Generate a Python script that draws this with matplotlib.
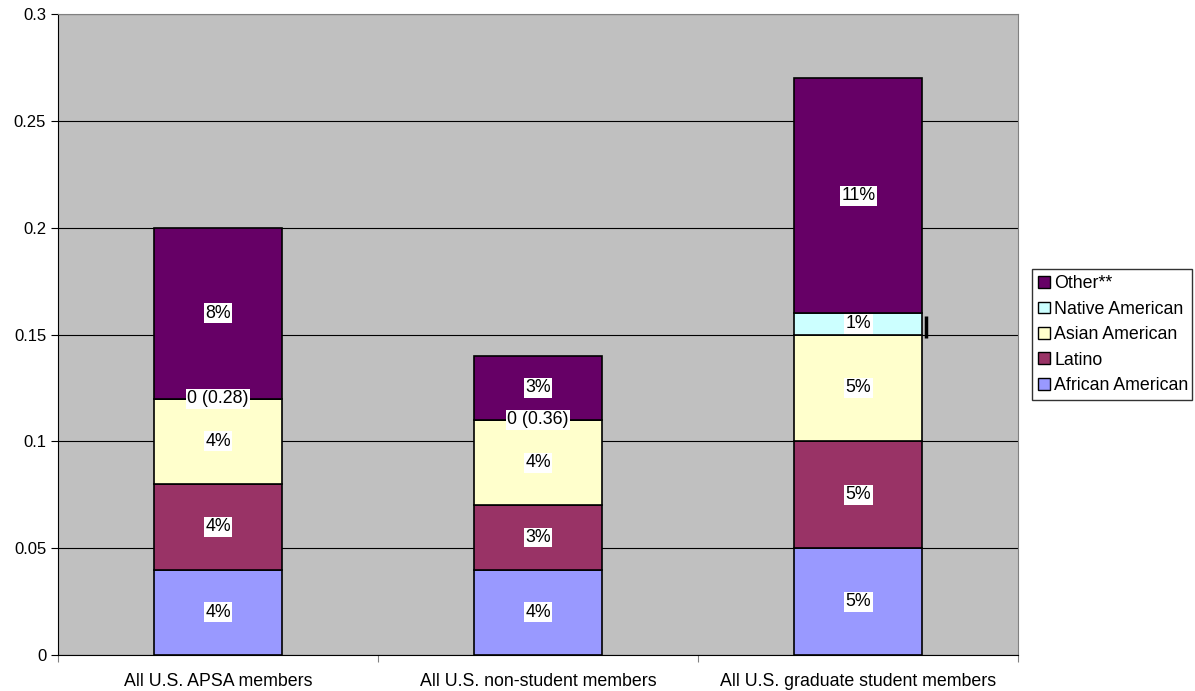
import numpy as np
import matplotlib.pyplot as plt
from matplotlib.patches import Patch

plt.rcParams['font.family'] = ['Liberation Sans', 'DejaVu Sans']

categories = ['All U.S. APSA members', 'All U.S. non-student members',
              'All U.S. graduate student members']
series = ['African American', 'Latino', 'Asian American', 'Native American', 'Other**']
african = [0.04, 0.04, 0.05]
latino = [0.04, 0.03, 0.05]
asian = [0.04, 0.04, 0.05]
native = [0.0, 0.0, 0.01]
other = [0.08, 0.03, 0.11]
labels = [
    ['4%', '4%', '5%'],
    ['4%', '3%', '5%'],
    ['4%', '4%', '5%'],
    ['0 (0.28)', '0 (0.36)', '1%'],
    ['8%', '3%', '11%'],
]
colors = ['#9999FF', '#993366', '#FFFFCC', '#CCFFFF', '#660066']

fs = 12.8

fig = plt.figure(figsize=(11.95, 6.91), dpi=100)
ax = fig.add_axes([0.0485, 0.0521, 0.8037, 0.9276])
ax.set_facecolor('#C0C0C0')

x = np.arange(len(categories))
width = 0.4
values = [african, latino, asian, native, other]
bottom = np.zeros(len(categories))
for vals, col, labs in zip(values, colors, labels):
    vals = np.array(vals)
    ax.bar(x, vals, width, bottom=bottom, color=col, edgecolor='black',
           linewidth=1.2, zorder=3)
    for xi, b, v, t in zip(x, bottom, vals, labs):
        ax.text(xi, b + v / 2, t, ha='center', va='center', fontsize=fs,
                zorder=5, bbox=dict(facecolor='white', edgecolor='none', pad=1))
    bottom = bottom + vals

# small dark mark beside the Native American segment of the third bar
ax.plot([2 + width / 2 + 0.01] * 2, [0.1485, 0.1585], color='black', lw=2.5,
        zorder=4, solid_capstyle='butt')

ax.set_xlim(-0.5, 2.5)
ax.set_ylim(0, 0.3)
ax.set_yticks([0, 0.05, 0.1, 0.15, 0.2, 0.25, 0.3])
ax.set_yticklabels(['0', '0.05', '0.1', '0.15', '0.2', '0.25', '0.3'], fontsize=12)
ax.yaxis.grid(True, color='black', linewidth=0.8, zorder=0)
ax.set_axisbelow(True)

ax.set_xticks([-0.5, 0.5, 1.5, 2.5])
ax.set_xticklabels([])
ax.set_xticks(x, minor=True)
ax.set_xticklabels(categories, minor=True, fontsize=fs)
ax.tick_params(axis='x', which='minor', length=0, pad=13)
ax.tick_params(axis='x', which='major', length=5, color='#808080')
ax.tick_params(axis='y', length=5)

for s in ['top', 'right']:
    ax.spines[s].set_color('#808080')
ax.spines['left'].set_color('black')
ax.spines['bottom'].set_color('black')

handles = [Patch(facecolor=c, edgecolor='black', label=s)
           for s, c in zip(series, colors)]
leg = fig.legend(handles[::-1], series[::-1], loc='lower left',
                 bbox_to_anchor=(0.8636, 0.421, 0.134, 0.188), mode='expand',
                 fontsize=fs, frameon=True, fancybox=False, handlelength=0.65,
                 handleheight=0.65, handletextpad=0.25, labelspacing=0.47,
                 borderpad=0.35, borderaxespad=0)
leg.get_frame().set_edgecolor('black')
leg.get_frame().set_linewidth(1.0)

fig.savefig('out.png', dpi=100)
